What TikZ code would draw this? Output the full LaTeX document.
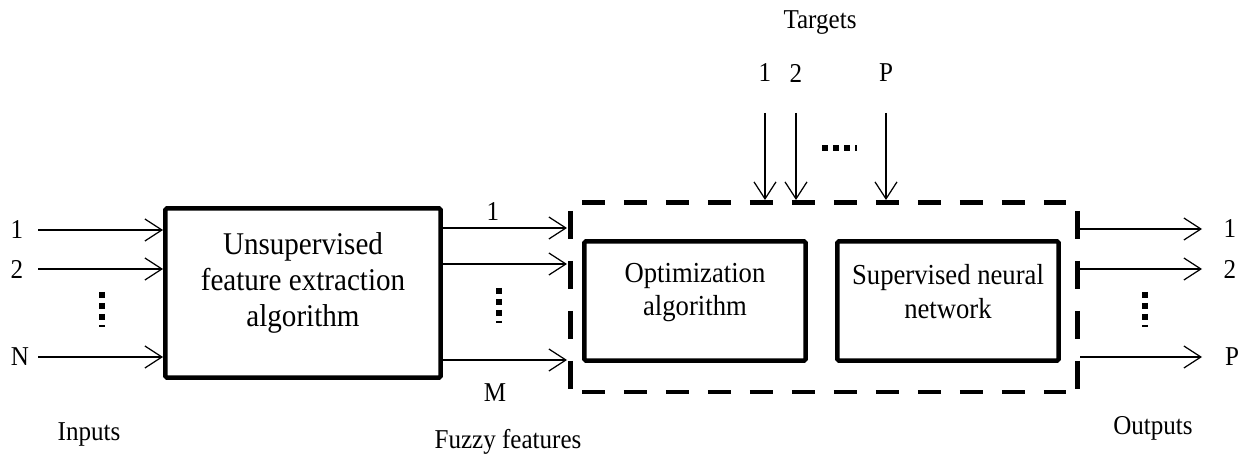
\documentclass[tikz,border=0pt]{standalone}
\usepackage{fontspec}
\setmainfont{Liberation Serif}[FakeStretch=0.92]
\usetikzlibrary{arrows.meta}
\tikzset{
	arr/.style={-{Straight Barb[length=0.34cm,width=0.44cm]}, line width=0.7pt},
	blk/.style={draw, line width=0.09cm, rounded corners=1pt, inner sep=0pt},
	blktxt/.style={align=center, inner sep=0pt, font=\fontsize{16.5}{19}\selectfont},
	lbl/.style={inner sep=0pt, font=\fontsize{15.5}{18}\selectfont},
	hdash/.style={line width=0.1cm, dash pattern=on 0.46cm off 0.38cm},
	vdash/.style={line width=0.1cm, dash pattern=on 0.56cm off 0.44cm},
	vdots/.style={line width=0.11cm, dash pattern=on 0.12cm off 0.1cm}
}
\begin{document}
\begin{tikzpicture}[x=0.02cm,y=-0.02cm]
	\useasboundingbox (0,0) rectangle (1245,459);
	% blocks
	\node[blk, minimum width=5.51cm, minimum height=3.39cm] (ufe) at (303,293) {};
	\node[blktxt, font=\fontsize{18}{20.5}\selectfont] at ([yshift=0.2cm]ufe.center) {Unsupervised\\feature extraction\\algorithm};
	\node[blk, minimum width=4.43cm, minimum height=2.39cm] (opt) at (695,301) {};
	\node[blktxt] at ([yshift=0.17cm]opt.center) {Optimization\\algorithm};
	\node[blk, minimum width=4.43cm, minimum height=2.39cm] (snn) at (948,301) {};
	\node[blktxt] at ([yshift=0.19cm]snn.center) {Supervised neural\\network};
	% dashed frame
	\coordinate (dnw) at (570,203);
	\coordinate (dse) at (1077,392);
	\draw[hdash] (582,203) -- (1066,203);
	\draw[hdash] (582,392) -- (1066,392);
	\draw[vdash] (570,211) -- (570,392);
	\draw[vdash] (1077,211) -- (1077,392);
	% inputs
	\coordinate (ist) at (38,0);
	\node[lbl] (in1) at (17,230) {1};
	\node[lbl] (in2) at (17,269) {2};
	\node[lbl] (inN) at (20,357) {N};
	\draw[arr] (in1 -| ist) -- (in1 -| ufe.west);
	\draw[arr] (in2 -| ist) -- (in2 -| ufe.west);
	\draw[arr] (inN -| ist) -- (inN -| ufe.west);
	\draw[vdots] (102,292) -- (102,327);
	\node[lbl] (inputs) at (89,434) {Inputs};
	% fuzzy features
	\coordinate (fz1) at (0,228);
	\coordinate (fz2) at (0,264);
	\coordinate (fzM) at (0,360);
	\draw[arr, shorten >=0.06cm] (fz1 -| ufe.east) -- (fz1 -| dnw);
	\draw[arr, shorten >=0.06cm] (fz2 -| ufe.east) -- (fz2 -| dnw);
	\draw[arr, shorten >=0.06cm] (fzM -| ufe.east) -- (fzM -| dnw);
	\draw[vdots] (499,288) -- (499,323);
	\node[lbl] (f1) at (493,212) {1};
	\node[lbl] (fM) at (495,393) {M};
	\node[lbl] (fuzzy) at (508,442) {Fuzzy features};
	% targets
	\coordinate (tst) at (0,113);
	\node[lbl] (targets) at (820,23) {Targets};
	\node[lbl] (t1) at (765,73) {1};
	\node[lbl] (t2) at (796,73) {2};
	\node[lbl] (tP) at (886,73) {P};
	\draw[arr, shorten >=0.06cm] (t1 |- tst) -- (t1 |- dnw);
	\draw[arr, shorten >=0.06cm] (t2 |- tst) -- (t2 |- dnw);
	\draw[arr, shorten >=0.06cm] (tP |- tst) -- (tP |- dnw);
	\draw[vdots] (822,148) -- (857,148);
	% outputs
	\coordinate (oend) at (1202,0);
	\node[lbl] (out1) at (1230,229) {1};
	\node[lbl] (out2) at (1230,269) {2};
	\node[lbl] (outP) at (1232,357) {P};
	\draw[arr, shorten <=0.06cm] (out1 -| dse) -- (out1 -| oend);
	\draw[arr, shorten <=0.06cm] (out2 -| dse) -- (out2 -| oend);
	\draw[arr, shorten <=0.06cm] (outP -| dse) -- (outP -| oend);
	\draw[vdots] (1145,292) -- (1145,327);
	\node[lbl] (outputs) at (1153,428) {Outputs};
\end{tikzpicture}
\end{document}
